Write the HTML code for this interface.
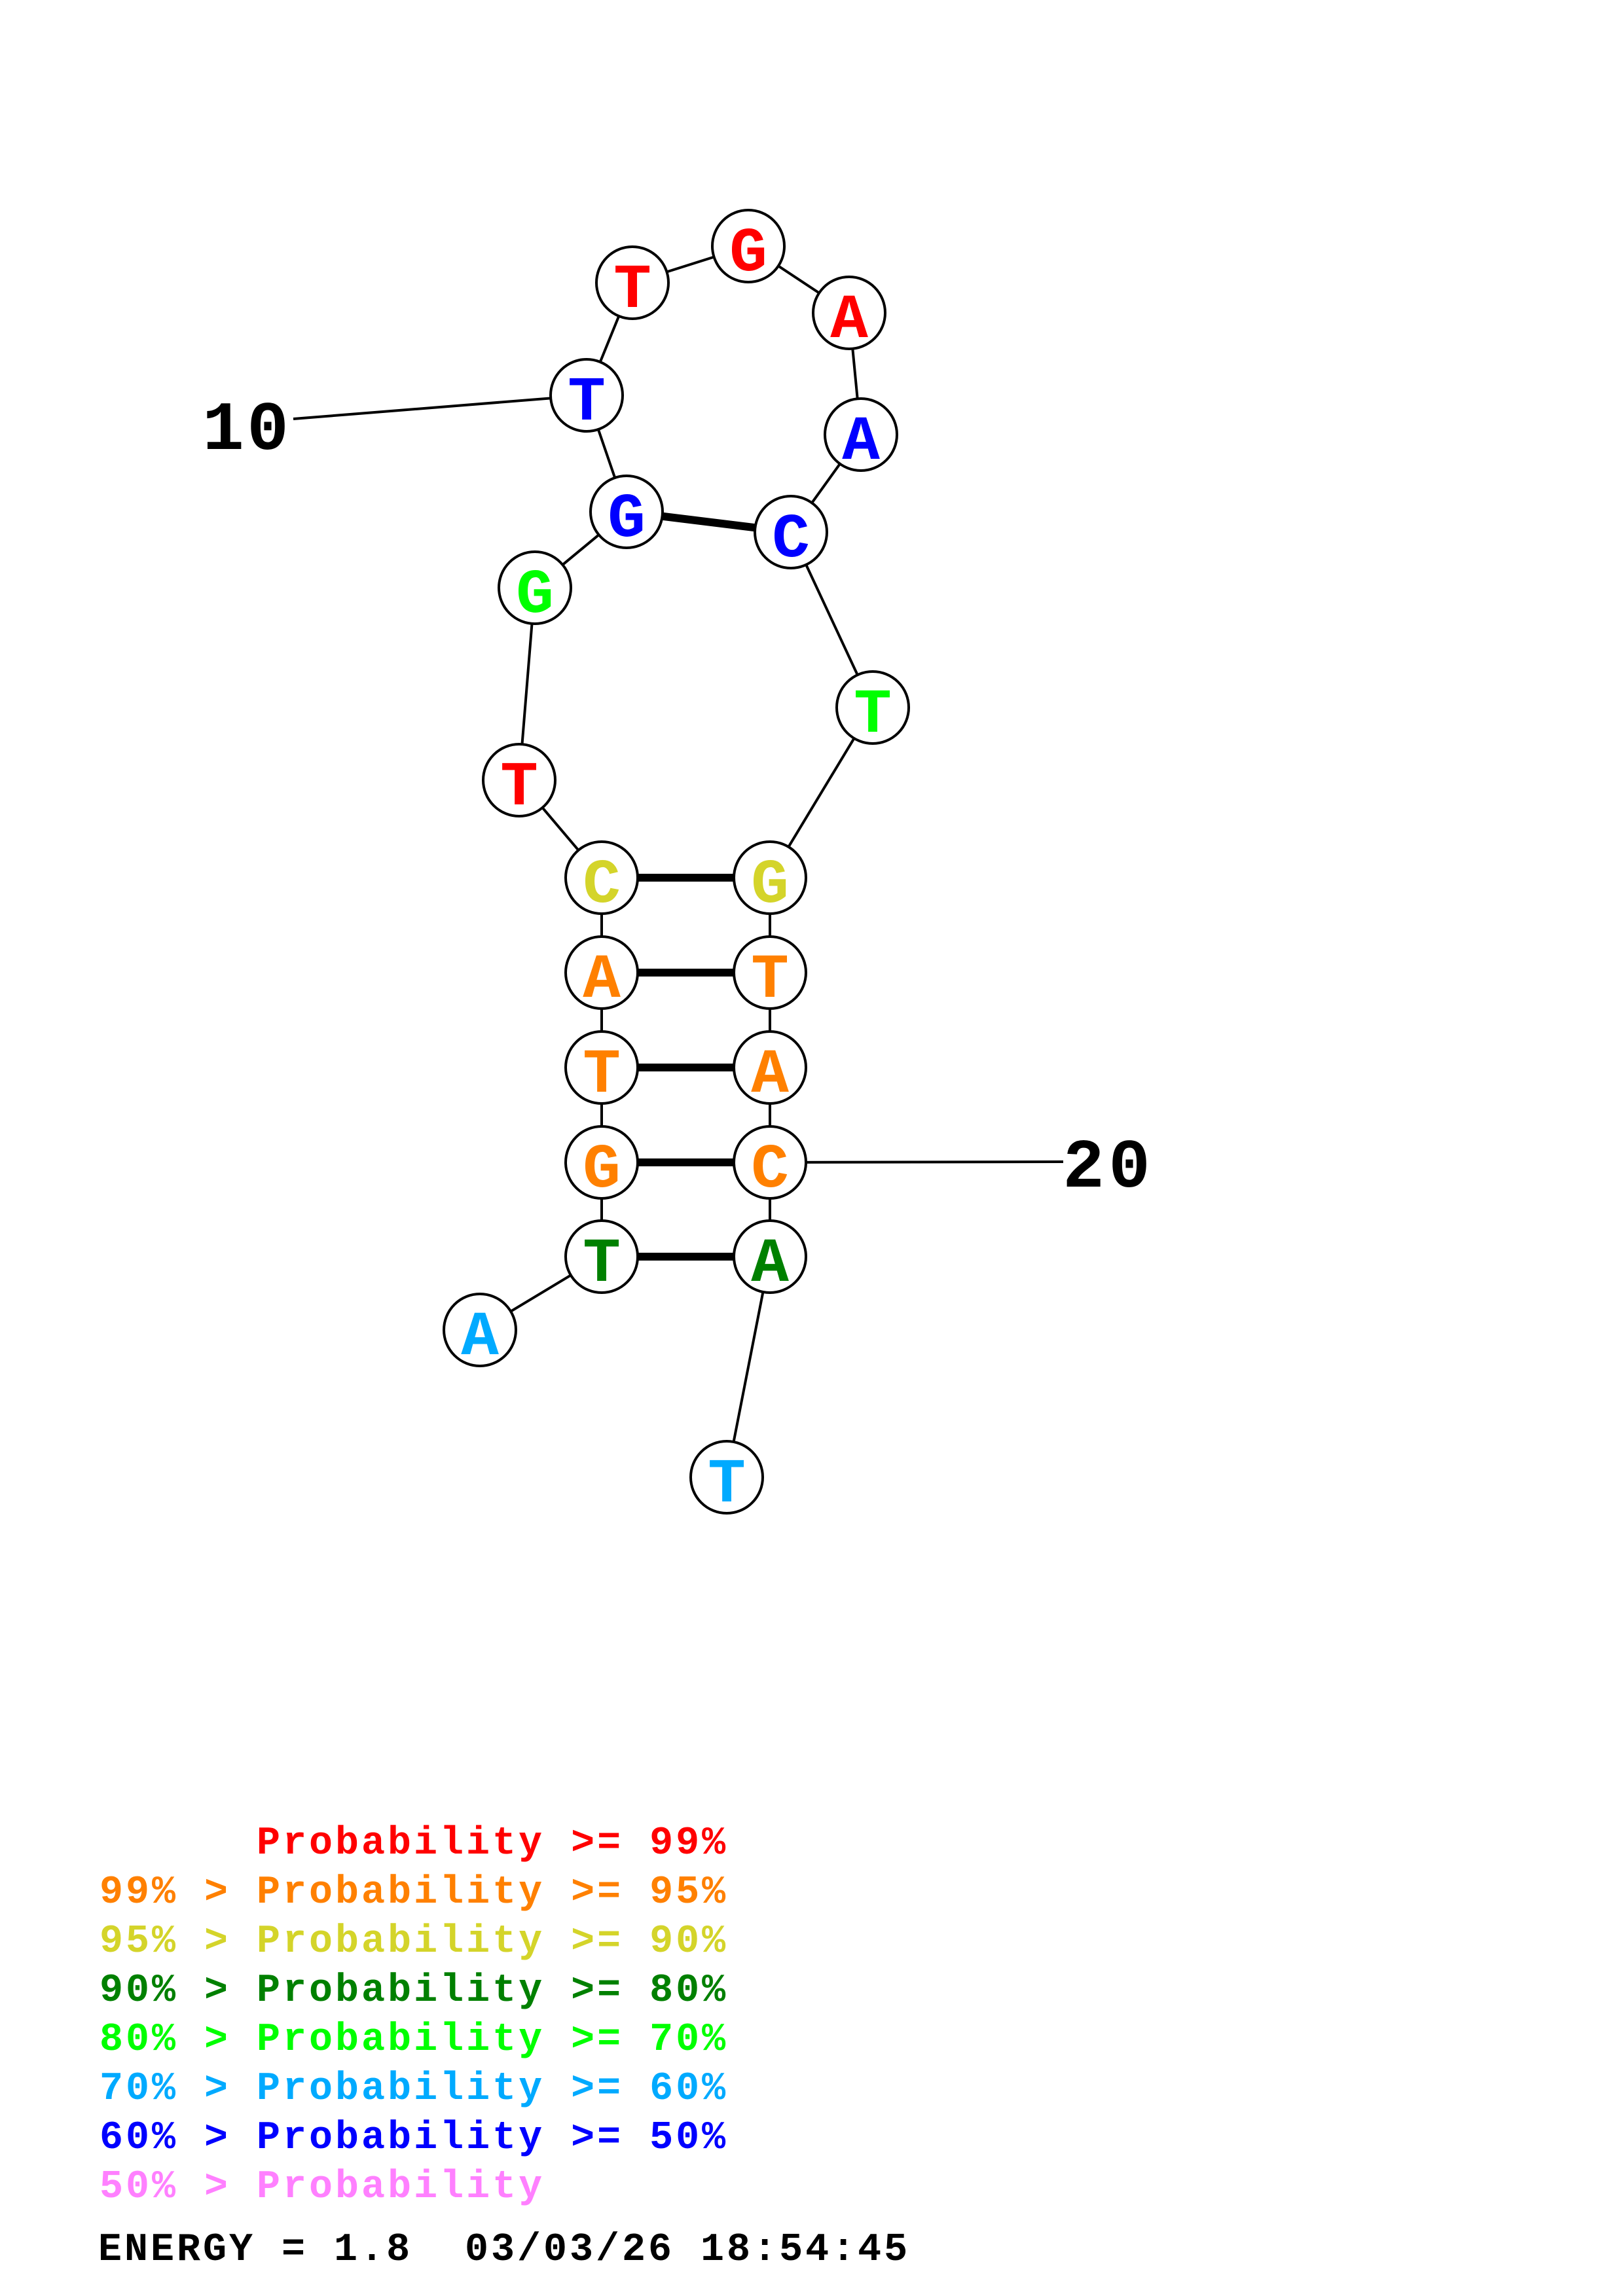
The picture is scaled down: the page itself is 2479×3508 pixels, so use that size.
<!DOCTYPE html>
<html><head><meta charset="utf-8"><style>
html,body{margin:0;padding:0;background:#fff;}
svg{display:block;}
.n{font-family:"Liberation Mono",monospace;font-weight:bold;font-size:96px;text-anchor:middle;}
.lg{font-family:"Liberation Mono",monospace;font-weight:bold;font-size:60px;letter-spacing:4px;}
.lb{font-family:"Liberation Mono",monospace;font-weight:bold;font-size:106px;text-anchor:middle;}
</style></head><body>
<svg width="2479" height="3508" viewBox="0 0 2479 3508" xmlns="http://www.w3.org/2000/svg">
<rect width="2479" height="3508" fill="#fff"/>
<g stroke="#000" stroke-width="4" fill="none">
<polyline points="733,2032 919,1920 919,1776 919,1631 919,1486 919,1341 793,1192 817,898 957,782 896,604 966,432 1143,376 1297,478 1315,664 1208,813 1333,1081 1176,1341 1176,1486 1176,1631 1176,1776 1176,1920 1110,2257"/>
<line x1="448" y1="640" x2="896" y2="604"/>
<line x1="1176" y1="1776" x2="1624" y2="1775"/>
</g>
<g stroke="#000" stroke-width="12">
<line x1="919" y1="1341" x2="1176" y2="1341"/>
<line x1="919" y1="1486" x2="1176" y2="1486"/>
<line x1="919" y1="1631" x2="1176" y2="1631"/>
<line x1="919" y1="1776" x2="1176" y2="1776"/>
<line x1="919" y1="1920" x2="1176" y2="1920"/>
<line x1="957" y1="782" x2="1208" y2="813"/>
</g>
<g stroke="#000" stroke-width="4" fill="#fff">
<circle cx="733" cy="2032" r="55"/>
<circle cx="919" cy="1920" r="55"/>
<circle cx="919" cy="1776" r="55"/>
<circle cx="919" cy="1631" r="55"/>
<circle cx="919" cy="1486" r="55"/>
<circle cx="919" cy="1341" r="55"/>
<circle cx="793" cy="1192" r="55"/>
<circle cx="817" cy="898" r="55"/>
<circle cx="957" cy="782" r="55"/>
<circle cx="896" cy="604" r="55"/>
<circle cx="966" cy="432" r="55"/>
<circle cx="1143" cy="376" r="55"/>
<circle cx="1297" cy="478" r="55"/>
<circle cx="1315" cy="664" r="55"/>
<circle cx="1208" cy="813" r="55"/>
<circle cx="1333" cy="1081" r="55"/>
<circle cx="1176" cy="1341" r="55"/>
<circle cx="1176" cy="1486" r="55"/>
<circle cx="1176" cy="1631" r="55"/>
<circle cx="1176" cy="1776" r="55"/>
<circle cx="1176" cy="1920" r="55"/>
<circle cx="1110" cy="2257" r="55"/>
</g>
<g class="n">
<text x="733" y="2069" fill="#00AAFF">A</text>
<text x="919" y="1957" fill="#008000">T</text>
<text x="919" y="1813" fill="#FF8000">G</text>
<text x="919" y="1668" fill="#FF8000">T</text>
<text x="919" y="1523" fill="#FF8000">A</text>
<text x="919" y="1378" fill="#D4D42A">C</text>
<text x="793" y="1229" fill="#FF0000">T</text>
<text x="817" y="935" fill="#00FF00">G</text>
<text x="957" y="819" fill="#0000FF">G</text>
<text x="896" y="641" fill="#0000FF">T</text>
<text x="966" y="469" fill="#FF0000">T</text>
<text x="1143" y="413" fill="#FF0000">G</text>
<text x="1297" y="515" fill="#FF0000">A</text>
<text x="1315" y="701" fill="#0000FF">A</text>
<text x="1208" y="850" fill="#0000FF">C</text>
<text x="1333" y="1118" fill="#00FF00">T</text>
<text x="1176" y="1378" fill="#D4D42A">G</text>
<text x="1176" y="1523" fill="#FF8000">T</text>
<text x="1176" y="1668" fill="#FF8000">A</text>
<text x="1176" y="1813" fill="#FF8000">C</text>
<text x="1176" y="1957" fill="#008000">A</text>
<text x="1110" y="2294" fill="#00AAFF">T</text>
</g>
<g class="lb" fill="#000">
<text x="341" y="686">1</text>
<text x="409" y="686">0</text>
<text x="1655" y="1813">2</text>
<text x="1725" y="1813">0</text>
</g>
<g class="lg">
<text x="392" y="2832" fill="#FF0000">Probability &gt;= 99%</text>
<text x="152" y="2907" fill="#FF8000">99% &gt; Probability &gt;= 95%</text>
<text x="152" y="2982" fill="#D4D42A">95% &gt; Probability &gt;= 90%</text>
<text x="152" y="3057" fill="#008000">90% &gt; Probability &gt;= 80%</text>
<text x="152" y="3132" fill="#00FF00">80% &gt; Probability &gt;= 70%</text>
<text x="152" y="3207" fill="#00AAFF">70% &gt; Probability &gt;= 60%</text>
<text x="152" y="3282" fill="#0000FF">60% &gt; Probability &gt;= 50%</text>
<text x="152" y="3357" fill="#FF80FF">50% &gt; Probability</text>
<text x="150" y="3453" fill="#000">ENERGY = 1.8</text>
<text x="710" y="3453" fill="#000">03/03/26 18:54:45</text>
</g>
</svg>
</body></html>
